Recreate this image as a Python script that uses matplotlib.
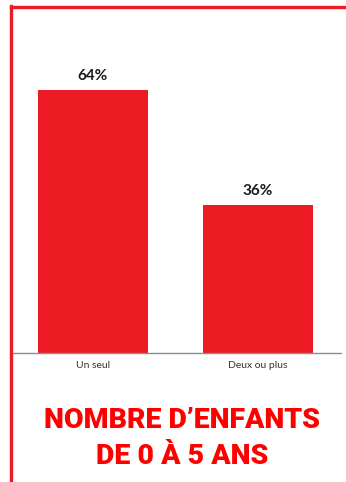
import matplotlib
matplotlib.use("Agg")
import matplotlib.pyplot as plt
from matplotlib.lines import Line2D

categories = ["Un seul", "Deux ou plus"]
values = [64, 36]
value_labels = ["64%", "36%"]
title_lines = ["NOMBRE D\u2019ENFANTS", "DE 0 \u00c0 5 ANS"]

RED = "#ED1C24"
W, H = 346, 482
fig = plt.figure(figsize=(W / 100, H / 100), dpi=100)
fig.patch.set_facecolor("white")

ax = fig.add_axes([10.5 / W, 1 - 353 / H, 330 / W, (353 - 65.3) / H])
x = list(range(len(categories)))
ax.bar(x, values, width=0.667, color=RED)
ax.set_xlim(-0.5, 1.5)
ax.set_ylim(0, 70)
for xi, v, lab in zip(x, values, value_labels):
    ax.text(xi, v + 1.6, lab, ha="center", va="bottom", fontsize=11,
            fontweight="bold", family="Lato", color="#1a1a1a")
ax.set_xticks(x)
ax.set_xticklabels(categories, fontsize=7.5, family="Lato", color="#333333")
ax.tick_params(axis="x", length=0, pad=6)
ax.set_yticks([])
for s in ["top", "right", "left"]:
    ax.spines[s].set_visible(False)
ax.spines["bottom"].set_color("#8c8c8c")
ax.spines["bottom"].set_linewidth(1)
ax.patch.set_alpha(0)

# red frame
fig.add_artist(Line2D([11 / W, 11 / W], [0, 1 - 6 / H], transform=fig.transFigure,
                      color=RED, linewidth=2.4, solid_capstyle="projecting"))
fig.add_artist(Line2D([11 / W, 1], [1 - 7 / H, 1 - 7 / H], transform=fig.transFigure,
                      color=RED, linewidth=2.4, solid_capstyle="projecting"))

fig.text(182.5 / W, 1 - 420 / H, title_lines[0], ha="center", va="center",
         fontsize=20.5, fontweight="heavy", family="Roboto", color="#FF0000")
fig.text(182.5 / W, 1 - 457 / H, title_lines[1], ha="center", va="center",
         fontsize=20.5, fontweight="heavy", family="Roboto", color="#FF0000")

fig.savefig("out.png", dpi=100, facecolor="white")
